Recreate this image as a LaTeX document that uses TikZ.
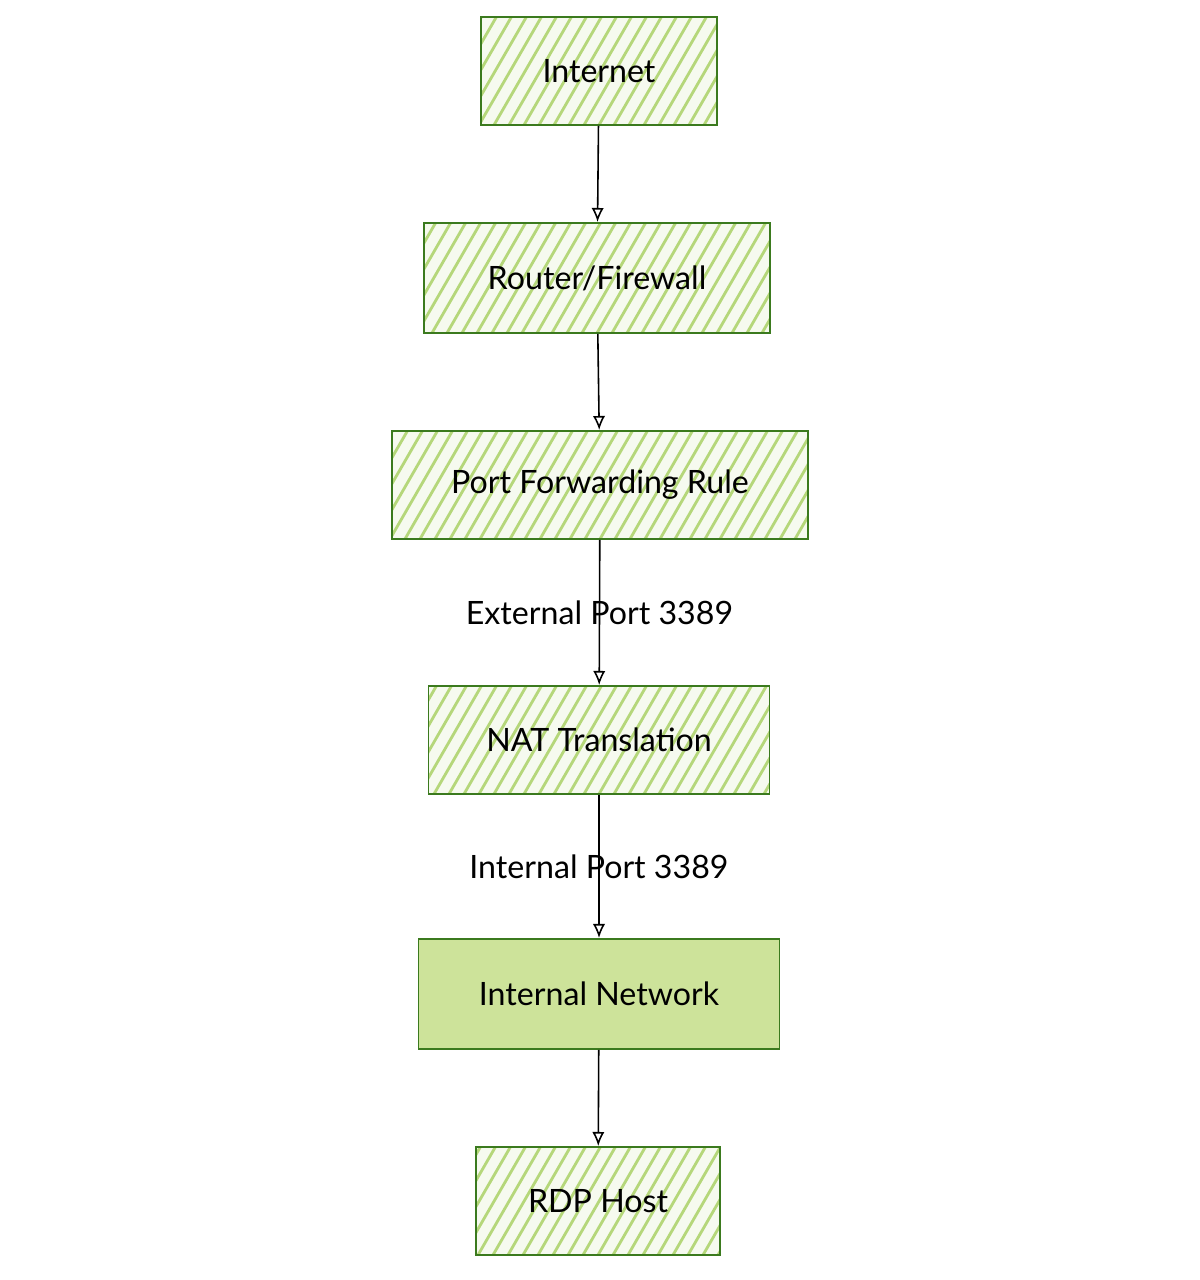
\documentclass[tikz,border=0pt]{standalone}
\usepackage{fontspec}
\setmainfont{Lato}
\usetikzlibrary{arrows.meta}
\definecolor{boxgreen}{HTML}{B5D77A}
\definecolor{edgegreen}{HTML}{3B7A1E}
\definecolor{solidgreen}{HTML}{CDE39A}
\tikzset{
  stepbox/.style={rectangle, draw=edgegreen, line width=1.1pt, minimum height=2.16cm,
    fill=boxgreen!12, font=\fontsize{18.3}{21}\selectfont,
    path picture={
      \foreach \k in {-12,-11.7,...,12}
        \draw[boxgreen, line width=1.6pt]
          ([xshift=\k cm]path picture bounding box.south) -- ++(60:5);
    }},
  solidbox/.style={rectangle, draw=edgegreen, line width=1.1pt, minimum height=2.2cm,
    fill=solidgreen, font=\fontsize{18.3}{21}\selectfont},
  flow/.style={-{Latex[open,length=8pt,width=7pt]}, line width=0.9pt},
  portlabel/.style={font=\fontsize{18.3}{21}\selectfont}
}
\begin{document}
\begin{tikzpicture}
\useasboundingbox (0,0) rectangle (24,-25.6);
\node[stepbox, minimum width=4.72cm] (inet) at (11.98,-1.42) {Internet};
\node[stepbox, minimum width=6.92cm, minimum height=2.2cm] (router) at (11.94,-5.56) {Router/Firewall};
\node[stepbox, minimum width=8.32cm] (pfr) at (12.0,-9.7) {Port Forwarding Rule};
\node[stepbox, minimum width=6.82cm] (nat) at (11.98,-14.8) {NAT Translation};
\node[solidbox, minimum width=7.22cm] (lan) at (11.98,-19.88) {Internal Network};
\node[stepbox, minimum width=4.88cm] (rdp) at (11.96,-24.02) {RDP Host};

\draw[flow] (inet) -- (router);
\draw[flow] (router) -- (pfr);
\draw[flow] (pfr) -- node[portlabel] {External Port 3389} (nat);
\draw[flow] (nat) -- node[portlabel] {Internal Port 3389} (lan);
\draw[flow] (lan) -- (rdp);
\end{tikzpicture}
\end{document}
